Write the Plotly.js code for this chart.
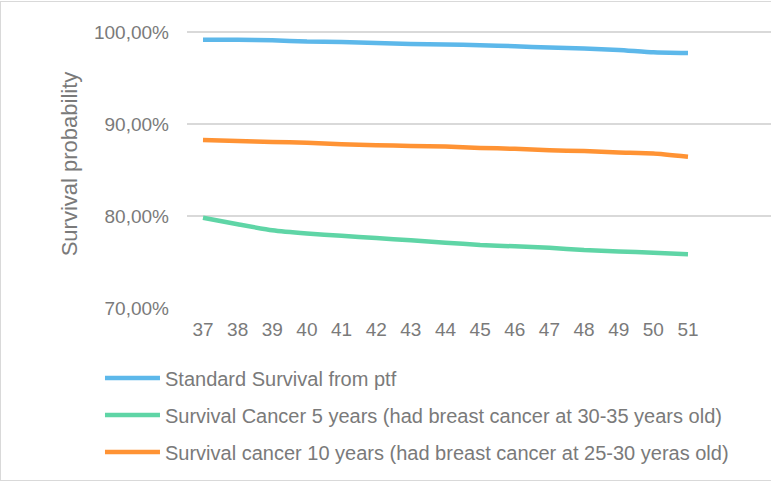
<!DOCTYPE html>
<html>
<head>
<meta charset="utf-8">
<script src="https://cdn.plot.ly/plotly-3.0.1.min.js"></script>
<style>
  html, body { margin: 0; padding: 0; background: #fff; }
  #wrap { position: relative; width: 771px; height: 484px; }
  #chart { width: 771px; height: 484px; }
  #frame { position: absolute; left: 0; top: 1px; width: 780px; height: 480px;
           border: 1px solid #d9d9d9; box-sizing: border-box; pointer-events: none; }
</style>
</head>
<body>
<div id="wrap">
  <div id="chart"></div>
  <div id="frame"></div>
</div>
<script>
const ages = [37, 38, 39, 40, 41, 42, 43, 44, 45, 46, 47, 48, 49, 50, 51];
const standardSurvival = [0.9915, 0.9915, 0.9910, 0.9895, 0.9890, 0.9880, 0.9870, 0.9865, 0.9855, 0.9845, 0.9830, 0.9820, 0.9805, 0.9780, 0.9770];
const cancer5Years = [0.7980, 0.7910, 0.7845, 0.7810, 0.7785, 0.7760, 0.7735, 0.7710, 0.7685, 0.7670, 0.7655, 0.7630, 0.7615, 0.7600, 0.7585];
const cancer10Years = [0.8825, 0.8815, 0.8805, 0.8795, 0.8780, 0.8770, 0.8760, 0.8755, 0.8740, 0.8730, 0.8715, 0.8705, 0.8690, 0.8680, 0.8645];
const seriesNames = [
  "Standard Survival from ptf",
  "Survival Cancer 5 years (had breast cancer at 30-35 years old)",
  "Survival cancer 10 years (had breast cancer at 25-30 yeras old)"
];
const yTicks = [0.7, 0.8, 0.9, 1.0];

const colors = ["#5DB8EA", "#5FD5A6", "#FF9334"];
const series = [standardSurvival, cancer5Years, cancer10Years];

const traces = series.map((vals, i) => ({
  x: ages,
  y: vals,
  type: "scatter",
  mode: "lines",
  name: seriesNames[i],
  legendgroup: "g" + i,
  line: { color: colors[i], width: 4.5, shape: "spline", smoothing: 0.5 },
  hoverinfo: "skip"
}));

const textColor = "#7a7a7a";
const layout = {
  width: 771,
  height: 484,
  margin: { l: 187, r: 0, t: 20, b: 176 },
  paper_bgcolor: "#ffffff",
  plot_bgcolor: "#ffffff",
  separators: ",.",
  font: { family: "Liberation Sans, Arial, sans-serif", size: 19, color: textColor },
  showlegend: true,
  legend: {
    orientation: "v",
    x: -0.149,
    xanchor: "left",
    y: -0.175,
    yanchor: "top",
    itemwidth: 55,
    tracegroupgap: 8,
    font: { size: 20, color: textColor },
    bgcolor: "rgba(0,0,0,0)"
  },
  xaxis: {
    range: [36.538, 53.396],
    tickvals: ages,
    ticktext: ages.map(String),
    showgrid: false,
    zeroline: false,
    showline: false,
    ticks: "",
    ticklabelstandoff: 8,
    tickfont: { size: 19, color: textColor },
    fixedrange: true
  },
  yaxis: {
    range: [0.7, 1.013],
    tickvals: yTicks,
    tickformat: ".2%",
    showgrid: true,
    gridcolor: "#d9d9d9",
    gridwidth: 1.5,
    zeroline: false,
    showline: false,
    ticks: "",
    ticklabelstandoff: 17,
    tickfont: { size: 19, color: textColor },
    title: { text: "Survival probability", font: { size: 22, color: textColor }, standoff: 10 },
    fixedrange: true
  }
};

Plotly.newPlot("chart", traces, layout, { displayModeBar: false, staticPlot: true });
</script>
</body>
</html>
